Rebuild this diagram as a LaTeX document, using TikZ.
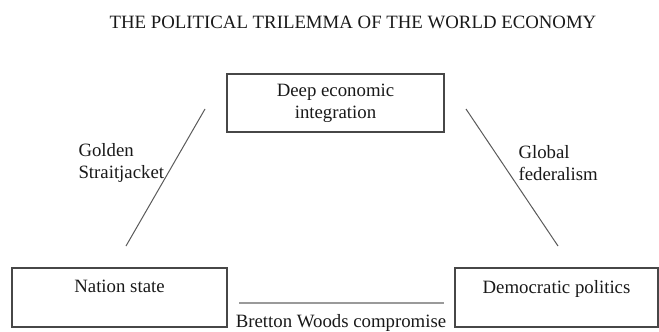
\documentclass[tikz,border=0pt]{standalone}
\usepackage{fontspec}
\setmainfont{Liberation Serif}
\usepackage{tikz}
\tikzset{
every picture/.style={
line width=1pt
}}
\definecolor{boxgray}{HTML}{474747}
\definecolor{linegray}{HTML}{5A5A5A}
\definecolor{bwgray}{HTML}{9A9A9A}

\begin{document}
\begin{tikzpicture}[x=1pt, y=-1pt,
block/.style = {rectangle, draw=boxgray, line width=1.3pt, align=center, inner sep=0pt, text=black!90},
lbl/.style = {inner sep=0pt, align=left, anchor=west, text=black!90},
every node/.append style = {font=\fontsize{18.8}{22}\selectfont}]
\useasboundingbox (0,0) rectangle (659,332);
\node[inner sep=0pt, text=black!90] at (353,22) (title) {THE POLITICAL TRILEMMA OF THE WORLD ECONOMY};
\node[block, minimum width=217, minimum height=58] at (335.5,103) (dei) {Deep economic\\integration};
\node[block, minimum width=215, minimum height=59] at (119.5,297.5) (ns) {Nation state\\\mbox{}};
\node[block, minimum width=203, minimum height=59] at (556.5,297.5) (dp) {Democratic politics\\\mbox{}};
\node[lbl] at (78,162.5) (gs) {Golden\\Straitjacket};
\node[lbl] at (518,163) (gf) {Global\\federalism};
\node[inner sep=0pt, anchor=base, text=black!90] at (341,327.5) (bw) {Bretton Woods compromise};
% line ends, they stop short of the boxes
\coordinate (gs-lo) at (126,246);
\coordinate (gs-hi) at (205,109);
\coordinate (gf-hi) at (466,109);
\coordinate (gf-lo) at (558,246);
\coordinate (bw-l) at (239,303);
\coordinate (bw-r) at (444,303);
\draw [linegray] (gs-lo) -- (gs-hi);
\draw [linegray] (gf-hi) -- (gf-lo);
\draw [bwgray, line width=1.6pt] (bw-l) -- (bw-r);

\end{tikzpicture}
\end{document}
